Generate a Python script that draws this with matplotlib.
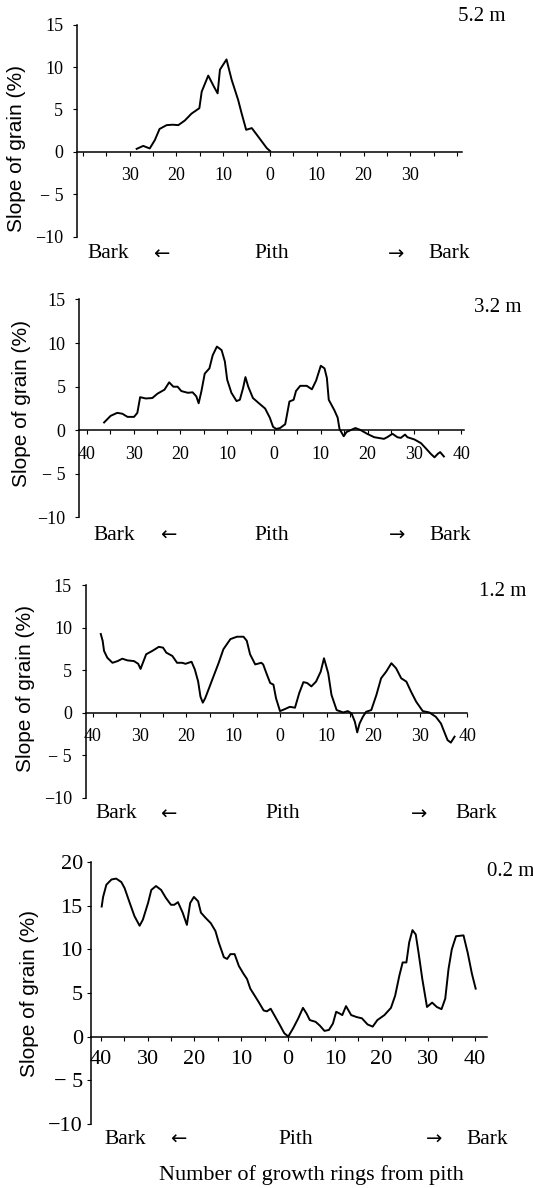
import numpy as np
import matplotlib
matplotlib.use("Agg")
import matplotlib.pyplot as plt

W, H = 533, 1188

# ring number from pith: negative = towards left bark, positive = towards right bark
heights = ["5.2 m", "3.2 m", "1.2 m", "0.2 m"]

p1 = [(-28.5, 0.35), (-27.1, 0.7), (-25.7, 0.4), (-24.6, 1.4), (-23.6, 2.7), (-22.1, 3.15),
      (-20.8, 3.2), (-19.6, 3.15), (-18.2, 3.7), (-16.8, 4.5), (-15.1, 5.15), (-14.6, 7.1),
      (-13.2, 9.0), (-12.0, 7.7), (-11.2, 6.9), (-10.7, 9.7), (-9.3, 10.9), (-8.2, 8.5),
      (-6.8, 6.1), (-6.1, 4.6), (-5.1, 2.6), (-3.9, 2.8), (-2.8, 2.0), (-0.7, 0.44), (0.0, 0.1)]

p2 = [(-36.3, 0.9), (-34.9, 1.66), (-33.5, 2.0), (-32.4, 1.9), (-31.3, 1.54), (-29.9, 1.54),
      (-29.2, 2.0), (-28.6, 3.8), (-27.4, 3.65), (-26.0, 3.7), (-24.9, 4.2), (-23.4, 4.66),
      (-22.4, 5.5), (-21.5, 5.0), (-20.6, 5.0), (-19.8, 4.5), (-18.4, 4.3), (-17.4, 4.36),
      (-16.6, 3.9), (-16.1, 3.1), (-15.5, 4.5), (-14.8, 6.5), (-13.8, 7.1), (-13.1, 8.6),
      (-12.2, 9.6), (-11.2, 9.2), (-10.5, 7.9), (-10.0, 5.8), (-9.1, 4.3), (-8.0, 3.35),
      (-7.3, 3.5), (-6.6, 4.85), (-6.1, 6.1), (-5.5, 5.0), (-4.5, 3.7), (-3.0, 3.0),
      (-1.9, 2.5), (-0.9, 1.46), (-0.2, 0.4), (0.5, 0.15), (1.3, 0.26), (2.4, 0.7),
      (3.3, 3.3), (4.2, 3.5), (4.7, 4.5), (5.6, 5.1), (7.0, 5.1), (8.1, 4.7), (9.0, 5.7),
      (10.0, 7.4), (10.8, 7.1), (11.3, 6.0), (11.7, 3.5), (12.9, 2.3), (13.6, 1.46),
      (14.0, 0.15), (14.9, -0.68), (15.5, -0.2), (16.3, 0.0), (17.4, 0.26), (18.5, 0.03),
      (19.9, -0.4), (21.4, -0.79), (23.5, -0.98), (24.2, -0.79), (25.3, -0.4), (26.4, -0.8),
      (27.1, -0.87), (28.0, -0.49), (28.5, -0.79), (30.0, -1.05), (31.4, -1.47), (32.5, -2.1),
      (33.5, -2.7), (34.3, -3.1), (35.0, -2.7), (35.5, -2.5), (36.3, -3.0)]

p3 = [(-38.3, 9.25), (-37.9, 8.45), (-37.6, 7.26), (-36.9, 6.46), (-35.8, 5.87), (-34.7, 6.07),
      (-33.7, 6.35), (-32.6, 6.15), (-31.2, 6.07), (-30.3, 5.75), (-29.8, 5.15), (-29.3, 5.87),
      (-28.6, 6.87), (-27.3, 7.26), (-25.9, 7.74), (-25.0, 7.65), (-24.3, 7.06), (-23.0, 6.67),
      (-22.0, 5.87), (-20.9, 5.87), (-20.2, 5.75), (-18.9, 5.99), (-18.2, 5.08), (-17.5, 3.69),
      (-17.0, 1.9), (-16.5, 1.19), (-16.0, 1.7), (-15.3, 2.7), (-14.2, 4.29), (-13.1, 5.87),
      (-12.1, 7.46), (-10.6, 8.65), (-9.2, 8.93), (-7.8, 8.93), (-7.1, 8.45), (-6.4, 6.87),
      (-5.3, 5.68), (-4.0, 5.87), (-3.6, 5.68), (-2.8, 4.49), (-2.1, 3.5), (-1.4, 3.3),
      (-0.85, 1.7), (0.0, 0.2), (1.06, 0.44), (2.1, 0.7), (3.2, 0.6), (4.1, 2.3), (5.0, 3.6),
      (5.8, 3.5), (6.7, 3.1), (7.7, 3.66), (8.7, 4.84), (9.4, 6.4), (10.3, 4.64), (11.0, 2.1),
      (12.1, 0.32), (13.5, 0.04), (14.5, 0.2), (15.3, -0.08), (16.0, -1.06), (16.5, -2.3),
      (17.0, -1.26), (17.7, -0.47), (18.4, 0.12), (19.5, 0.32), (20.6, 2.1), (21.6, 4.05),
      (22.7, 4.84), (23.8, 5.82), (24.8, 5.23), (25.9, 4.05), (27.0, 3.66), (28.0, 2.48),
      (29.1, 1.3), (30.5, 0.2), (31.9, 0.04), (33.3, -0.47), (34.4, -1.26), (35.1, -2.24),
      (35.8, -3.2), (36.5, -3.5), (37.3, -2.8)]

p4 = [(-39.8, 14.9), (-39.5, 16.0), (-38.8, 17.4), (-37.7, 18.0), (-36.7, 18.1), (-35.6, 17.7),
      (-34.9, 17.0), (-33.8, 15.3), (-32.8, 13.8), (-31.7, 12.7), (-31.0, 13.4), (-29.9, 15.3),
      (-29.2, 16.8), (-28.2, 17.25), (-27.1, 16.8), (-26.1, 15.9), (-25.0, 15.1), (-24.3, 15.1),
      (-23.5, 15.4), (-22.5, 14.2), (-21.6, 12.8), (-20.9, 15.3), (-20.1, 16.0), (-19.2, 15.5),
      (-18.6, 14.2), (-17.6, 13.6), (-16.5, 13.0), (-15.5, 12.1), (-14.8, 10.8), (-13.7, 9.1),
      (-13.0, 8.9), (-12.3, 9.45), (-11.4, 9.45), (-10.5, 8.1), (-9.5, 7.2), (-8.75, 6.6),
      (-8.05, 5.5), (-7.35, 4.9), (-6.3, 4.0), (-5.2, 3.0), (-4.5, 2.9), (-3.7, 3.2),
      (-2.75, 2.3), (-1.7, 1.3), (-0.8, 0.4), (0.06, 0.02), (1.1, 0.96), (2.2, 2.1), (3.2, 3.3),
      (3.96, 2.66), (4.66, 1.9), (5.9, 1.7), (6.8, 1.27), (7.8, 0.66), (8.75, 0.77), (9.6, 1.5),
      (10.3, 2.85), (11.0, 2.66), (11.6, 2.47), (12.4, 3.5), (13.5, 2.47), (14.7, 2.24),
      (15.8, 2.1), (17.0, 1.4), (18.1, 1.15), (19.1, 1.9), (20.6, 2.47), (22.0, 3.3), (22.9, 4.7),
      (23.8, 7.0), (24.5, 8.5), (25.3, 8.5), (25.9, 10.8), (26.6, 12.2), (27.3, 11.7), (27.9, 9.6),
      (28.7, 6.6), (29.7, 3.4), (30.8, 3.9), (31.8, 3.4), (32.8, 3.15), (33.6, 4.35), (34.3, 7.75),
      (35.0, 10.0), (35.9, 11.5), (37.5, 11.6), (38.4, 9.6), (39.3, 7.2), (40.1, 5.5)]

curves = [p1, p2, p3, p4]
xticks_top = [-30, -20, -10, 0, 10, 20, 30]
xticks_all = [-40, -30, -20, -10, 0, 10, 20, 30, 40]
yticks_a = [-10, -5, 0, 5, 10, 15]
yticks_b = [-10, -5, 0, 5, 10, 15, 20]

# layout in pixels: left, right, top, bottom, xlim, ylim
boxes = [
    (77.2, 462.4, 24.7, 236.6, (-41.2, 41.1), (-10, 15)),
    (79.3, 464.0, 299.5, 517.5, (-41.6, 40.6), (-10, 15)),
    (85.8, 467.2, 585.0, 798.0, (-41.5, 40.0), (-10, 15)),
    (91.4, 486.9, 862.0, 1124.0, (-42.0, 42.5), (-10, 20)),
]
# label rows: y of Bark/Pith row, x of Bark, <-, Pith, ->, Bark ; height label (x, y, ha)
rows = [
    (254, [108, 161.5, 271.5, 396, 449], (506, 16.5, "right"), (17, 148.5)),
    (535.7, [114, 168.5, 271.5, 397.5, 450.5], (521, 308, "right"), (22, 403.8)),
    (814, [116, 168.5, 283, 419, 476], (526, 591.5, "right"), (25.5, 688)),
    (1139, [125, 178.5, 295.5, 434.5, 487.5], (487, 871.5, "left"), (30, 993.6)),
]

serif = ["Liberation Serif", "DejaVu Serif"]
sans = ["Liberation Sans", "DejaVu Sans"]


def fx(x):
    return x / W


def fy(y):
    return 1 - y / H


def ylab(v):
    return "\u2212" + (" " if v == -5 else "") + str(abs(v)) if v < 0 else str(v)


fig = plt.figure(figsize=(W / 100, H / 100), dpi=100)

for i in range(4):
    l, r, t, b, xl, yl = boxes[i]
    ax = fig.add_axes([fx(l), fy(b), (r - l) / W, (b - t) / H])
    pts = np.array(curves[i])
    ax.plot(pts[:, 0], pts[:, 1], color="black", lw=1.4)
    ax.set_xlim(xl)
    ax.set_ylim(yl)
    ax.spines["top"].set_visible(False)
    ax.spines["right"].set_visible(False)
    ax.spines["bottom"].set_position(("data", 0))
    ax.spines["left"].set_linewidth(1.1)
    ax.spines["bottom"].set_linewidth(1.1)

    big = i == 3
    xt = xticks_top if i == 0 else xticks_all
    ax.set_xticks(xt)
    ax.set_xticklabels([str(abs(v)) for v in xt], family=serif, fontsize=16 if big else 13)
    ax.set_xticks(np.arange(-40, 41, 5), minor=True)
    yt = yticks_b if big else yticks_a
    ax.set_yticks(yt)
    ax.set_yticklabels([ylab(v) for v in yt], family=serif, fontsize=16 if big else 13)
    ax.tick_params(axis="x", which="both", direction="out", length=3, width=0.8,
                   pad=6.3 if big else 8)
    ax.tick_params(axis="y", direction="out", length=3, width=0.8, pad=3.2 if big else 7)

    ry, xs, hl, yl_pos = rows[i]
    words = ["Bark", "\u2190", "Pith", "\u2192", "Bark"]
    for w, x in zip(words, xs):
        if w in ("\u2190", "\u2192"):
            fig.text(fx(x), fy(ry), w, ha="center", va="center",
                     family="DejaVu Sans", fontsize=14)
        else:
            fig.text(fx(x), fy(ry), w, ha="center", va="center", family=serif,
                     fontsize=15.5)
    fig.text(fx(hl[0]), fy(hl[1]), heights[i], ha=hl[2], va="center",
             family=serif, fontsize=15)
    fig.text(fx(yl_pos[0]), fy(yl_pos[1]), "Slope of grain (%)", rotation=90,
             ha="center", va="center", family=sans, fontsize=15)

fig.text(fx(311.5), fy(1175), "Number of growth rings from pith", ha="center",
         va="center", family=serif, fontsize=16)

fig.savefig("out.png", dpi=100)
